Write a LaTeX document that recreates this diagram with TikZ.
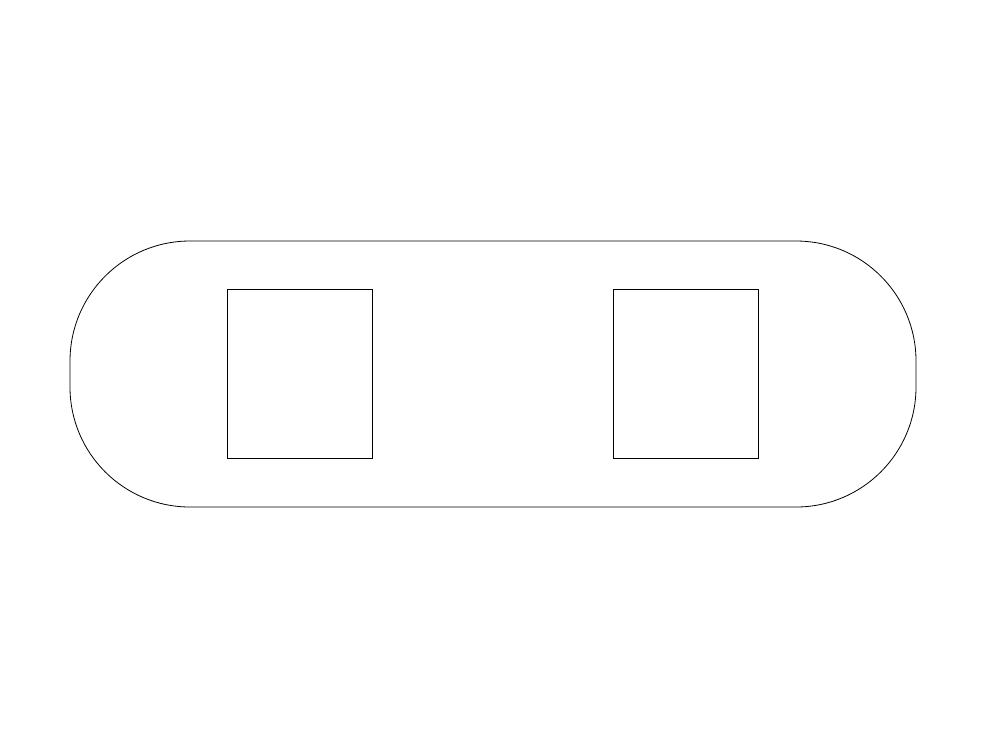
\documentclass[tikz,border=0pt]{standalone}
\begin{document}
\begin{tikzpicture}[x=1pt,y=-1pt,
  outline/.style={draw=black,line width=0.8pt},
  window/.style={draw=black,line width=0.8pt}]
\useasboundingbox (0,0) rectangle (987,748);
\draw[outline,rounded corners=120pt] (70,241) rectangle (916,507);
\draw[window] (227.5,289.5) rectangle (372,458.5);
\draw[window] (613.5,289.5) rectangle (758.5,458.5);
\end{tikzpicture}
\end{document}
